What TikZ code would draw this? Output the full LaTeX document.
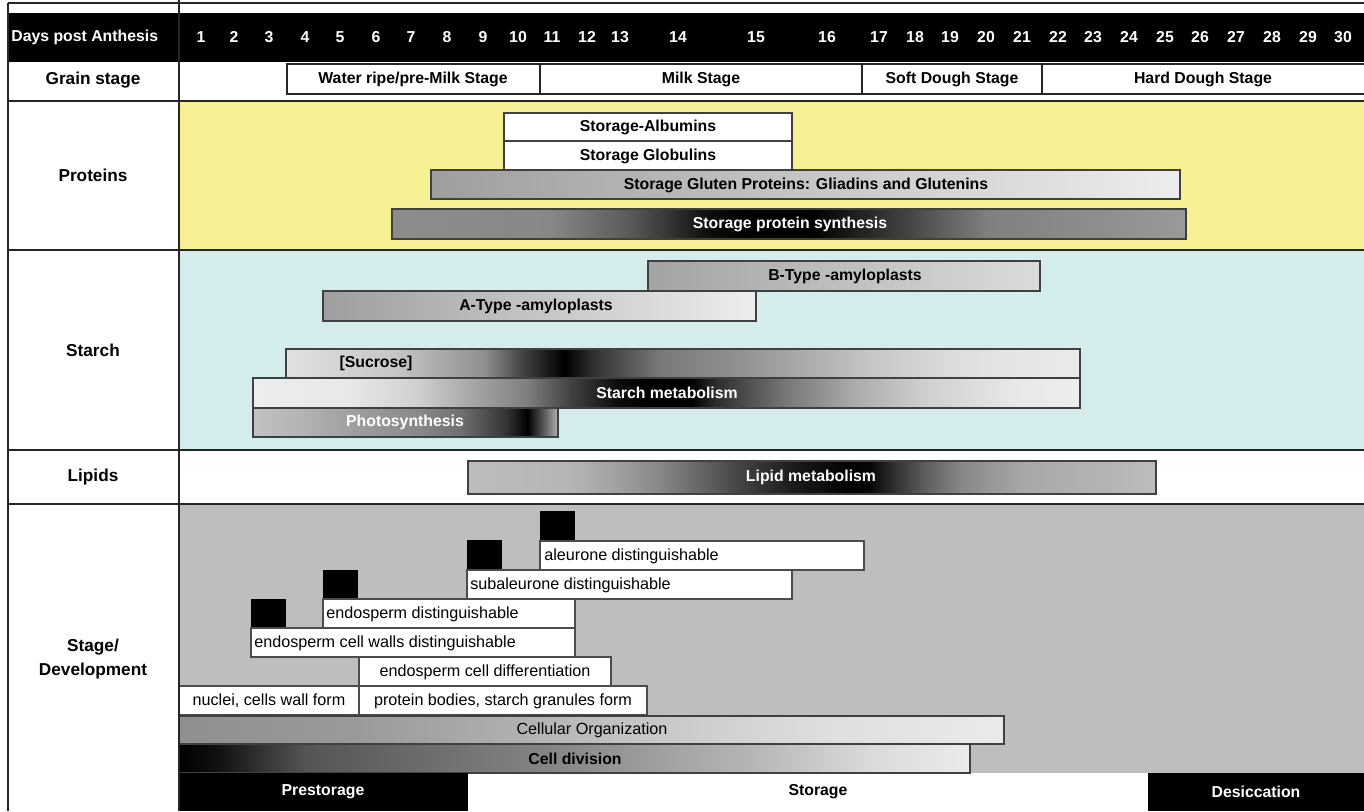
\documentclass[tikz,border=0pt]{standalone}
\usepackage{fontspec}
\setmainfont{Liberation Sans}
\usetikzlibrary{positioning}
\definecolor{protyellow}{HTML}{F6F195}
\definecolor{starchcyan}{HTML}{D5ECED}
\definecolor{devgray}{HTML}{BCBEC0}
% gradients: bar left end sits at 25bp, right end at 75bp
\pgfdeclarehorizontalshading{synthshade}{100bp}{color(0bp)=(black!45); color(25bp)=(black!45);
  color(35bp)=(black!47); color(40bp)=(black!65); color(45bp)=(black!95); color(47.5bp)=(black!100);
  color(51.5bp)=(black!100); color(56bp)=(black!80); color(62.5bp)=(black!50); color(75bp)=(black!40);
  color(100bp)=(black!40)}
\pgfdeclarehorizontalshading{sucroseshade}{100bp}{color(0bp)=(black!12); color(25bp)=(black!12);
  color(31.75bp)=(black!22); color(37.5bp)=(black!44); color(40bp)=(black!75); color(42.5bp)=(black!100);
  color(44.5bp)=(black!80); color(48.5bp)=(black!53); color(54bp)=(black!42); color(62bp)=(black!22);
  color(68bp)=(black!12); color(75bp)=(black!8); color(100bp)=(black!8)}
\pgfdeclarehorizontalshading{starchshade}{100bp}{color(0bp)=(black!7); color(25bp)=(black!7);
  color(30.8bp)=(black!9); color(34.8bp)=(black!18); color(37.5bp)=(black!31); color(41.5bp)=(black!50);
  color(44.3bp)=(black!75); color(47bp)=(black!95); color(49bp)=(black!100); color(51.5bp)=(black!100);
  color(53bp)=(black!82); color(57.25bp)=(black!53); color(61.35bp)=(black!33); color(65.5bp)=(black!19);
  color(71bp)=(black!9); color(75bp)=(black!7); color(100bp)=(black!7)}
\pgfdeclarehorizontalshading{photoshade}{100bp}{color(0bp)=(black!24); color(25bp)=(black!24);
  color(33.35bp)=(black!30); color(40.5bp)=(black!37); color(51.5bp)=(black!46); color(59bp)=(black!56);
  color(66.5bp)=(black!80); color(70bp)=(black!100); color(73bp)=(black!60); color(75bp)=(black!30);
  color(100bp)=(black!30)}
\pgfdeclarehorizontalshading{lipidshade}{100bp}{color(0bp)=(black!26); color(25bp)=(black!26);
  color(32.5bp)=(black!29); color(35.75bp)=(black!37); color(39bp)=(black!47); color(42.3bp)=(black!62);
  color(45.5bp)=(black!77); color(48.8bp)=(black!90); color(52.8bp)=(black!100); color(54.25bp)=(black!97);
  color(56bp)=(black!81); color(58.4bp)=(black!62); color(60.8bp)=(black!47); color(65.5bp)=(black!34);
  color(70.5bp)=(black!30); color(75bp)=(black!26); color(100bp)=(black!26)}
\pgfdeclarehorizontalshading{cellorgshade}{100bp}{color(0bp)=(black!44); color(25bp)=(black!44);
  color(35bp)=(black!40); color(43.5bp)=(black!33); color(53.5bp)=(black!22); color(64bp)=(black!13);
  color(75bp)=(black!8); color(100bp)=(black!8)}
\pgfdeclarehorizontalshading{celldivshade}{100bp}{color(0bp)=(black); color(25bp)=(black);
  color(27.3bp)=(black!94); color(30bp)=(black!81); color(33bp)=(black!67); color(38.5bp)=(black!60);
  color(44.25bp)=(black!53); color(50bp)=(black!46); color(55.5bp)=(black!37); color(61bp)=(black!29);
  color(69bp)=(black!14); color(75bp)=(black!8); color(100bp)=(black!8)}
\tikzset{
  % outlined bar of a process
  barbox/.style={draw=black!75, line width=0.6pt},
  % white box of the grain stage row
  stagebox/.style={draw=black!85, fill=white, line width=0.9pt},
  % white box in the development panel
  devbox/.style={draw=black!70, fill=white, line width=0.6pt},
  % bold label on a bar, #1 = text colour
  bartext/.style={text=#1, font=\bfseries\fontsize{9}{10}\selectfont, inner sep=0pt},
  bartext/.default=black,
  % plain label in the development panel
  devtext/.style={font=\fontsize{9.2}{10}\selectfont, inner sep=0pt},
  % left column headings
  rowlabel/.style={font=\bfseries\fontsize{9.8}{13.5}\selectfont, align=center, inner sep=0pt},
  dayno/.style={text=white, font=\bfseries\fontsize{9}{10}\selectfont, inner sep=0pt},
  sepline/.style={draw=black!85, line width=1.1pt},
}

\begin{document}
\begin{tikzpicture}[x=0.02cm, y=-0.02cm]
  \fill[white] (0,0) rectangle (1364,811);
  \useasboundingbox (0,0) rectangle (1364,811);

  % panel backgrounds
  \fill[protyellow] (179,101) rectangle (1364,250);
  \fill[starchcyan] (179,250) rectangle (1364,450);
  \fill[devgray] (179,504) rectangle (1364,773);

  % day scale
  \fill[black] (8,13) rectangle (1364,62);
  \node[dayno, anchor=west] (dpa) at (11,37) {Days post Anthesis};
  \foreach \d/\x in {1/201, 2/234, 3/269, 4/305, 5/340, 6/376, 7/411, 8/447, 9/483, 10/518,
                     11/552, 12/587, 13/620, 14/678, 15/756, 16/827, 17/879, 18/915, 19/950,
                     20/986, 21/1022, 22/1058, 23/1093, 24/1129, 25/1165, 26/1200, 27/1236,
                     28/1272, 29/1308, 30/1343}
    \node[dayno] (day\d) at (\x,37) {\d};

  % grain stages
  \draw[stagebox] (287,64) rectangle (540,94);
  \draw[stagebox] (540,64) rectangle (862,94);
  \draw[stagebox] (862,64) rectangle (1042,94);
  \draw[stagebox] (1042,64) rectangle (1372,94);
  \node[bartext] (waterripe) at (413,79) {Water ripe/pre-Milk Stage};
  \node[bartext] (milk) at (701,79) {Milk Stage};
  \node[bartext] (softdough) at (952,79) {Soft Dough Stage};
  \node[bartext] (harddough) at (1203,79) {Hard Dough Stage};

  % proteins
  \draw[barbox, fill=white] (504,113) rectangle (792,141);
  \node[bartext] (albumin) at (648,127) {Storage-Albumins};
  \draw[barbox, fill=white] (504,141) rectangle (792,170);
  \node[bartext] (globulin) at (648,156) {Storage Globulins};
  \shadedraw[barbox, left color=black!38, right color=black!7] (431,170) rectangle (1180,199);
  \node[bartext] (gluten) at (806,185) {Storage Gluten Proteins: Gliadins and Glutenins};
  \shadedraw[barbox, shading=synthshade] (392,209) rectangle (1186,239);
  \node[bartext=white] (synth) at (790,224) {Storage protein synthesis};

  % starch
  \shadedraw[barbox, left color=black!36, right color=black!14] (648,261) rectangle (1040,291);
  \node[bartext] (btype) at (845,276) {B-Type -amyloplasts};
  \shadedraw[barbox, left color=black!38, right color=black!7] (323,291) rectangle (756,321);
  \node[bartext] (atype) at (536,306) {A-Type -amyloplasts};
  \shadedraw[barbox, shading=sucroseshade] (286,349) rectangle (1080,378);
  \node[bartext] (sucrose) at (376,363) {[Sucrose]};
  \shadedraw[barbox, shading=starchshade] (253,378) rectangle (1080,408);
  \node[bartext=white] (starchmet) at (667,393) {Starch metabolism};
  \shadedraw[barbox, shading=photoshade] (253,408) rectangle (558,437);
  \node[bartext=white] (photo) at (405,422) {Photosynthesis};

  % lipids
  \shadedraw[barbox, shading=lipidshade] (468,461) rectangle (1156,494);
  \node[bartext=white] (lipid) at (811,477) {Lipid metabolism};

  % development
  \foreach \x/\y in {540/511, 467/540, 323/570, 251/599}
    \fill[black] (\x,\y) rectangle ++(35,30);
  \draw[devbox] (540,541) rectangle (864,570);
  \node[devtext, anchor=west] (aleurone) at (544,556) {aleurone distinguishable};
  \draw[devbox] (467,570) rectangle (792,599);
  \node[devtext, anchor=west] (subaleurone) at (470,585) {subaleurone distinguishable};
  \draw[devbox] (323,599) rectangle (575,628);
  \node[devtext, anchor=west] (endosperm) at (326,614) {endosperm distinguishable};
  \draw[devbox] (251,628) rectangle (575,657);
  \node[devtext, anchor=west] (cellwalls) at (254,643) {endosperm cell walls distinguishable};
  \draw[devbox] (359,657) rectangle (611,686);
  \node[devtext] (differ) at (485,672) {endosperm cell differentiation};
  \draw[devbox] (179,686) rectangle (359,715);
  \node[devtext] (nuclei) at (269,701) {nuclei, cells wall form};
  \draw[devbox] (359,686) rectangle (647,715);
  \node[devtext] (bodies) at (503,701) {protein bodies, starch granules form};
  \shadedraw[barbox, shading=cellorgshade] (179,716) rectangle (1004,744);
  \node[devtext] (cellorg) at (592,730) {Cellular Organization};
  \shadedraw[barbox, shading=celldivshade] (179,744) rectangle (970,773);
  \node[bartext] (celldiv) at (575,759) {Cell division};

  % storage phases
  \fill[black] (179,773) rectangle (468,811);
  \fill[black] (1148,773) rectangle (1364,811);
  \node[bartext=white] (prestorage) at (323,792) {Prestorage};
  \node[bartext] (storage) at (818,792) {Storage};
  \node[bartext=white] (desiccation) at (1256,792) {Desiccation};

  % frame
  \draw[sepline] (8,3) -- (1364,3);
  \draw[sepline] (8,3) -- (8,811);
  \draw[sepline] (179,0) -- (179,811);
  \foreach \y in {101, 250, 450, 504}
    \draw[sepline] (8,\y) -- (1364,\y);

  % row headings
  \node[rowlabel] (grainlbl) at (93,80) {Grain stage};
  \node[rowlabel] (protlbl) at (93,175) {Proteins};
  \node[rowlabel] (starchlbl) at (93,350) {Starch};
  \node[rowlabel] (lipidlbl) at (93,477) {Lipids};
  \node[rowlabel] (devlbl) at (93,659) {Stage/\\Development};
\end{tikzpicture}
\end{document}
